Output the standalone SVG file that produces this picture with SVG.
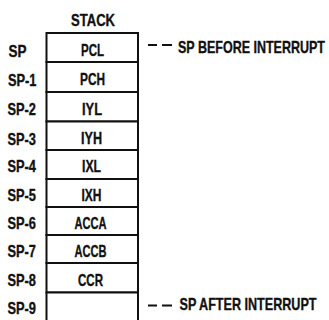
<svg xmlns="http://www.w3.org/2000/svg" width="329" height="320" viewBox="0 0 329 320">
<style>
  text { font-family: "Liberation Sans", Arial, sans-serif; font-weight: bold; font-size: 16.5px; fill: #111; stroke: #111; stroke-width: 0.35; }
  .c { text-anchor: middle; }
  .cell { fill: #fff; stroke: #111; stroke-width: 2; }
  .dash { stroke: #111; stroke-width: 2; fill: none; }
</style>
<rect width="329" height="320" fill="#fff"/>

<g id="cell-pcl"><rect class="cell" x="46.5" y="33" width="91.5" height="29"/></g>
<g id="cell-pch"><rect class="cell" x="46.5" y="62" width="91.5" height="30"/></g>
<g id="cell-iyl"><rect class="cell" x="46.5" y="92" width="91.5" height="29.5"/></g>
<g id="cell-iyh"><rect class="cell" x="46.5" y="121.5" width="91.5" height="28.5"/></g>
<g id="cell-ixl"><rect class="cell" x="46.5" y="150" width="91.5" height="29"/></g>
<g id="cell-ixh"><rect class="cell" x="46.5" y="179" width="91.5" height="28"/></g>
<g id="cell-acca"><rect class="cell" x="46.5" y="207" width="91.5" height="28"/></g>
<g id="cell-accb"><rect class="cell" x="46.5" y="235" width="91.5" height="28"/></g>
<g id="cell-ccr"><rect class="cell" x="46.5" y="263" width="91.5" height="29.5"/></g>
<g id="cell-empty"><path class="cell" d="M46.5 322 V292.5 H138 V322"/></g>

<g id="connectors">
  <path class="dash" d="M148 45 H157 M162 45 H172"/>
  <path class="dash" d="M148 305.5 H157 M162 305.5 H172"/>
</g>

<g id="texts" transform="scale(0.72,1)">
  <text id="title" class="c" x="129.17" y="26" textLength="61.1" lengthAdjust="spacingAndGlyphs">STACK</text>
  <g id="cell-texts">
    <text class="c" x="128.47" y="56.5" textLength="31.94" lengthAdjust="spacingAndGlyphs">PCL</text>
    <text class="c" x="128.47" y="85.5" textLength="34.72" lengthAdjust="spacingAndGlyphs">PCH</text>
    <text class="c" x="127.78" y="115" textLength="27.78" lengthAdjust="spacingAndGlyphs">IYL</text>
    <text class="c" x="127.08" y="144.5" textLength="29.17" lengthAdjust="spacingAndGlyphs">IYH</text>
    <text class="c" x="127.08" y="172" textLength="26.39" lengthAdjust="spacingAndGlyphs">IXL</text>
    <text class="c" x="127.08" y="201" textLength="27.78" lengthAdjust="spacingAndGlyphs">IXH</text>
    <text class="c" x="125.69" y="229.5" textLength="44.44" lengthAdjust="spacingAndGlyphs">ACCA</text>
    <text class="c" x="125.69" y="257.5" textLength="44.44" lengthAdjust="spacingAndGlyphs">ACCB</text>
    <text class="c" x="125.69" y="286" textLength="34.72" lengthAdjust="spacingAndGlyphs">CCR</text>
  </g>
  <g id="addr-labels">
    <text x="11.81" y="57" textLength="25" lengthAdjust="spacingAndGlyphs">SP</text>
    <text x="11.1" y="86" textLength="39.58" lengthAdjust="spacingAndGlyphs">SP-1</text>
    <text x="10.42" y="115" textLength="39.58" lengthAdjust="spacingAndGlyphs">SP-2</text>
    <text x="10.42" y="145" textLength="39.58" lengthAdjust="spacingAndGlyphs">SP-3</text>
    <text x="10.42" y="172" textLength="39.58" lengthAdjust="spacingAndGlyphs">SP-4</text>
    <text x="10.42" y="201" textLength="39.58" lengthAdjust="spacingAndGlyphs">SP-5</text>
    <text x="10.42" y="229.5" textLength="39.58" lengthAdjust="spacingAndGlyphs">SP-6</text>
    <text x="10.42" y="257.5" textLength="39.58" lengthAdjust="spacingAndGlyphs">SP-7</text>
    <text x="10.42" y="286" textLength="39.58" lengthAdjust="spacingAndGlyphs">SP-8</text>
    <text x="10.42" y="314" textLength="39.58" lengthAdjust="spacingAndGlyphs">SP-9</text>
  </g>
  <g id="note-before"><text x="247.22" y="53" textLength="204.17" lengthAdjust="spacingAndGlyphs">SP BEFORE INTERRUPT</text></g>
  <g id="note-after"><text x="249.31" y="310" textLength="190.28" lengthAdjust="spacingAndGlyphs">SP AFTER INTERRUPT</text></g>
</g>
</svg>
